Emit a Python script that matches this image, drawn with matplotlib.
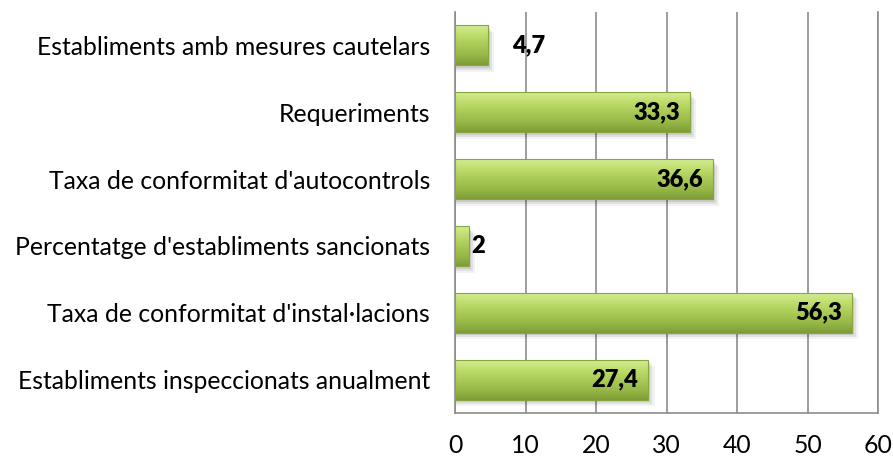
import matplotlib
matplotlib.use("Agg")
import matplotlib.pyplot as plt
import numpy as np
from matplotlib.colors import LinearSegmentedColormap
from matplotlib.patches import Rectangle

plt.rcParams["font.family"] = ["Lato", "DejaVu Sans"]

categories = [
    "Establiments inspeccionats anualment",
    "Taxa de conformitat d'instal·lacions",
    "Percentatge d'establiments sancionats",
    "Taxa de conformitat d'autocontrols",
    "Requeriments",
    "Establiments amb mesures cautelars",
]
values = [27.4, 56.3, 2, 36.6, 33.3, 4.7]
value_labels = ["27,4", "56,3", "2", "36,6", "33,3", "4,7"]
x_ticks = [0, 10, 20, 30, 40, 50, 60]

# degradado vertical de la barra (arriba claro -> abajo oscuro)
verde = LinearSegmentedColormap.from_list(
    "verde", ["#d6ed98", "#c0de6e", "#aacb58", "#98b948", "#7d9c35"]
)

fig = plt.figure(figsize=(8.93, 4.66), dpi=100)
ax = fig.add_axes([455 / 893, 1 - 413 / 466, (878 - 455) / 893, (413 - 12) / 466])

altura = 0.6
y_pos = np.arange(len(categories))
barras = ax.barh(y_pos, values, height=altura, color="none", edgecolor="none", zorder=3)

gradiente = np.linspace(0, 1, 256).reshape(-1, 1)
for barra in barras:
    x0, y0 = barra.get_x(), barra.get_y()
    w, h = barra.get_width(), barra.get_height()
    # sombra difusa
    for k, a in enumerate([0.05, 0.07, 0.09]):
        d = 0.9 - k * 0.3
        ax.add_patch(Rectangle((x0, y0 - 0.1 + 0.03 * k), w + d, h,
                               facecolor="black", alpha=a, edgecolor="none", zorder=2))
    img = ax.imshow(gradiente, cmap=verde, aspect="auto",
                    extent=(x0, x0 + w, y0, y0 + h), zorder=4, origin="upper")
    clip = Rectangle((x0, y0), w, h, transform=ax.transData)
    img.set_clip_path(clip)
    ax.add_patch(Rectangle((x0, y0), w, h, facecolor="none",
                           edgecolor="#86a640", linewidth=0.8, zorder=5))

# etiquetas de valores
for i, (v, etiqueta) in enumerate(zip(values, value_labels)):
    if v > 10:
        ax.annotate(etiqueta, (v, i), xytext=(-10, 0), textcoords="offset pixels",
                    ha="right", va="center", fontsize=17, fontweight="heavy", zorder=6)
    else:
        desp = 24 if v > 3 else 2
        ax.annotate(etiqueta, (v, i), xytext=(desp, 0), textcoords="offset pixels",
                    ha="left", va="center", fontsize=17, fontweight="heavy", zorder=6)

ax.set_xlim(0, 60)
ax.set_ylim(-0.5, len(categories) - 0.5)
ax.set_xticks(x_ticks)
ax.set_yticks(y_pos)
ax.set_yticklabels(categories, fontsize=17.8)
ax.tick_params(axis="x", length=0, pad=15, labelsize=17.8)
ax.tick_params(axis="y", length=0, pad=18)
ax.grid(axis="x", color="#8c8c8c", linewidth=1.2, zorder=0)
ax.set_axisbelow(True)
ax.spines["top"].set_visible(False)
for lado in ["left", "right", "bottom"]:
    ax.spines[lado].set_color("#8c8c8c")
    ax.spines[lado].set_linewidth(1.2)

fig.savefig("out.png", dpi=100)
